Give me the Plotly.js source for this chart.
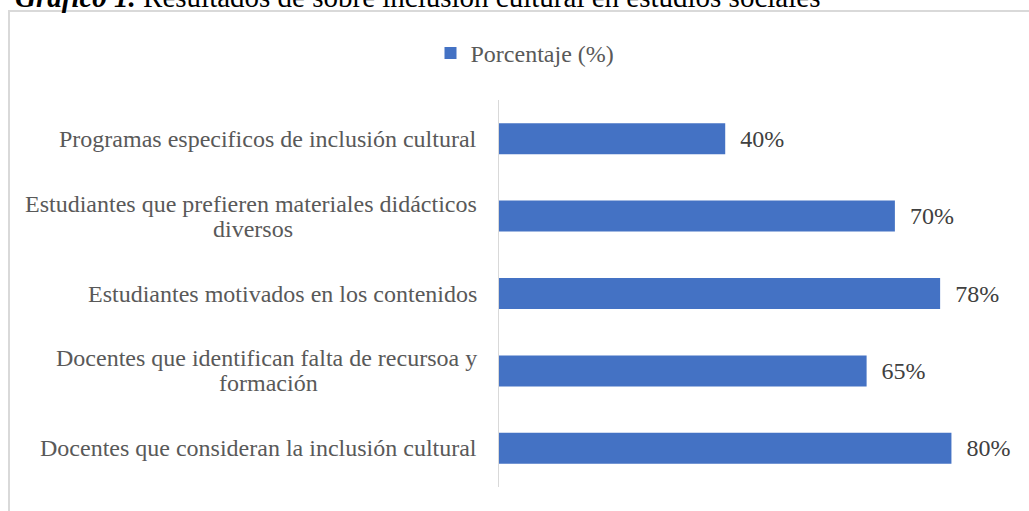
<!DOCTYPE html>
<html>
<head>
<meta charset="utf-8">
<script src="https://cdn.plot.ly/plotly-3.0.1.min.js"></script>
<style>html,body{margin:0;padding:0;background:#fff;}#chart{width:1029px;height:511px;}</style>
</head>
<body>
<div id="chart"></div>
<script>
// Data (top to bottom as shown)
const categories = [
  "Programas especificos de inclusión cultural",
  "Estudiantes que prefieren materiales didácticos<br>diversos",
  "Estudiantes motivados en los contenidos",
  "Docentes que identifican falta de recursoa y<br>formación",
  "Docentes que consideran la inclusión cultural"
];
const values = [40, 70, 78, 65, 80];
const seriesName = "Porcentaje (%)";
const chartTitle = "<b><i>Gráfico 1.</i></b> Resultados de sobre inclusión cultural en estudios sociales";

const W = 1029, H = 511;
const mL = 499, mR = 21, mT = 100, mB = 24;
const pw = W - mL - mR, ph = H - mT - mB;
const px = x => (x - mL) / pw;
const py = y => (H - mB - y) / ph;

const font = "Liberation Serif, Times New Roman, serif";
const labelSize = 24;
const labelFont = {family: font, size: labelSize, color: '#595959'};

const ctx = document.createElement('canvas').getContext('2d');
ctx.font = labelSize + "px 'Liberation Serif', 'Times New Roman', serif";
const measure = s => ctx.measureText(s).width;

const trace = {
  type: 'bar',
  orientation: 'h',
  y: categories,
  x: values,
  name: seriesName,
  marker: {color: '#4472C4'},
  text: values.map(v => '\u00a0\u00a0' + v + '%'),
  textposition: 'outside',
  textfont: {family: font, size: 24, color: '#404040'},
  cliponaxis: false,
  hoverinfo: 'none',
  showlegend: true
};

const gapX = -20, halfLine = 12.5;
const annotations = [];
categories.forEach(c => {
  const lines = c.split('<br>');
  if (lines.length === 1) {
    annotations.push({xref: 'paper', yref: 'y', x: 0, y: c, xanchor: 'right', yanchor: 'middle',
      xshift: gapX, text: c, showarrow: false, font: labelFont});
  } else {
    const w1 = measure(lines[0]);
    annotations.push({xref: 'paper', yref: 'y', x: 0, y: c, xanchor: 'right', yanchor: 'middle',
      xshift: gapX, yshift: halfLine, text: lines[0], showarrow: false, font: labelFont});
    annotations.push({xref: 'paper', yref: 'y', x: 0, y: c, xanchor: 'center', yanchor: 'middle',
      xshift: gapX - w1 / 2, yshift: -halfLine, text: lines[1], showarrow: false, font: labelFont});
  }
});
annotations.push({
  xref: 'paper', yref: 'paper', x: px(13), y: py(15), xanchor: 'left', yanchor: 'bottom',
  text: chartTitle, showarrow: false, font: {family: font, size: 29, color: '#000'}
});

const layout = {
  width: W, height: H,
  margin: {l: mL, r: mR, t: mT, b: mB, pad: 0},
  paper_bgcolor: '#fff', plot_bgcolor: '#fff',
  bargap: 0.6,
  font: {family: font},
  xaxis: {range: [0, 90], visible: false, fixedrange: true},
  yaxis: {type: 'category', autorange: 'reversed', showticklabels: false, ticks: '',
          showline: true, linecolor: '#d9d9d9', linewidth: 1, showgrid: false, zeroline: false},
  showlegend: true,
  legend: {orientation: 'h', x: px(525), xanchor: 'center', y: py(31), yanchor: 'top', itemwidth: 30,
           font: {family: font, size: 24, color: '#595959'}, itemclick: false},
  annotations: annotations,
  shapes: [{type: 'rect', xref: 'paper', yref: 'paper', x0: px(9), x1: px(1040), y0: py(530), y1: py(11),
            line: {color: '#d9d9d9', width: 2}, fillcolor: 'rgba(0,0,0,0)', layer: 'below'}]
};

Plotly.newPlot('chart', [trace], layout, {staticPlot: true, displayModeBar: false});
</script>
</body>
</html>
